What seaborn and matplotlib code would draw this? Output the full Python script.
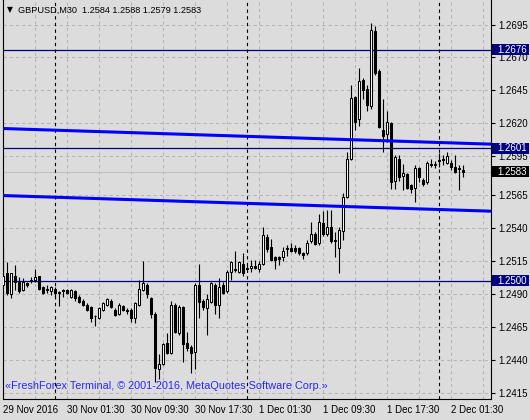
import numpy as np
import pandas as pd
import seaborn as sns
import matplotlib
matplotlib.use("Agg")
import matplotlib.pyplot as plt
from matplotlib.patches import Rectangle
import matplotlib.transforms as mtransforms

# GBPUSD M30 bars
opens = [1.2497, 1.2506, 1.2490, 1.2504, 1.2499, 1.2493, 1.2498, 1.2500, 1.2501, 1.2504,
         1.2495, 1.2493, 1.2492, 1.2494, 1.2491, 1.2493, 1.2493, 1.2488, 1.2492, 1.2488,
         1.2485, 1.2482, 1.2480, 1.2473, 1.2472, 1.2478, 1.2482, 1.2485, 1.2478, 1.2475,
         1.2481, 1.2478, 1.2478, 1.2472, 1.2482, 1.2493, 1.2497, 1.2487, 1.2475, 1.2433,
         1.2437, 1.2453, 1.2445, 1.2482, 1.2460, 1.2480, 1.2453, 1.2450, 1.2446, 1.2497,
         1.2485, 1.2479, 1.2484, 1.2497, 1.2482, 1.2497, 1.2492, 1.2507, 1.2509, 1.2507,
         1.2513, 1.2510, 1.2510, 1.2511, 1.2509, 1.2513, 1.2533, 1.2526, 1.2518, 1.2518,
         1.2518, 1.2525, 1.2525, 1.2525, 1.2525, 1.2521, 1.2521, 1.2530, 1.2536, 1.2529,
         1.2544, 1.2536, 1.2541, 1.2531, 1.2525, 1.2538, 1.2564, 1.2593, 1.2640, 1.2623,
         1.2653, 1.2646, 1.2633, 1.2690, 1.2660, 1.2615, 1.2612, 1.2620, 1.2576, 1.2593,
         1.2580, 1.2581, 1.2573, 1.2571, 1.2586, 1.2577, 1.2575, 1.2589, 1.2588, 1.2592,
         1.2593, 1.2590, 1.2590, 1.2587, 1.2586, 1.2584]
highs = [1.2526, 1.2514, 1.2506, 1.2512, 1.2503, 1.2502, 1.2499, 1.2503, 1.2509, 1.2504,
         1.2496, 1.2497, 1.2496, 1.2495, 1.2492, 1.2494, 1.2494, 1.2494, 1.2493, 1.2489,
         1.2486, 1.2483, 1.2481, 1.2474, 1.2480, 1.2484, 1.2487, 1.2486, 1.2479, 1.2483,
         1.2482, 1.2479, 1.2479, 1.2484, 1.2501, 1.2515, 1.2498, 1.2488, 1.2476, 1.2444,
         1.2453, 1.2460, 1.2485, 1.2483, 1.2482, 1.2481, 1.2461, 1.2451, 1.2498, 1.2513,
         1.2486, 1.2490, 1.2499, 1.2498, 1.2502, 1.2499, 1.2508, 1.2515, 1.2523, 1.2515,
         1.2521, 1.2512, 1.2516, 1.2516, 1.2515, 1.2541, 1.2536, 1.2532, 1.2519, 1.2519,
         1.2526, 1.2527, 1.2529, 1.2527, 1.2526, 1.2522, 1.2531, 1.2545, 1.2537, 1.2551,
         1.2553, 1.2554, 1.2554, 1.2537, 1.2541, 1.2567, 1.2598, 1.2649, 1.2641, 1.2662,
         1.2654, 1.2649, 1.2696, 1.2694, 1.2661, 1.2638, 1.2629, 1.2621, 1.2596, 1.2596,
         1.2589, 1.2582, 1.2574, 1.2588, 1.2587, 1.2578, 1.2591, 1.2593, 1.2591, 1.2597,
         1.2596, 1.2598, 1.2592, 1.2596, 1.2588, 1.2588]
lows = [1.2497, 1.2489, 1.2487, 1.2493, 1.2491, 1.2492, 1.2495, 1.2498, 1.2499, 1.2493,
        1.2490, 1.2491, 1.2489, 1.2487, 1.2481, 1.2488, 1.2490, 1.2487, 1.2485, 1.2483,
        1.2481, 1.2477, 1.2469, 1.2466, 1.2471, 1.2477, 1.2481, 1.2479, 1.2473, 1.2474,
        1.2477, 1.2475, 1.2469, 1.2468, 1.2481, 1.2492, 1.2487, 1.2472, 1.2423, 1.2425,
        1.2436, 1.2444, 1.2444, 1.2460, 1.2459, 1.2438, 1.2447, 1.2430, 1.2433, 1.2472,
        1.2478, 1.2459, 1.2483, 1.2475, 1.2472, 1.2490, 1.2491, 1.2501, 1.2507, 1.2506,
        1.2504, 1.2507, 1.2507, 1.2509, 1.2507, 1.2512, 1.2522, 1.2515, 1.2509, 1.2512,
        1.2515, 1.2519, 1.2522, 1.2521, 1.2520, 1.2517, 1.2520, 1.2529, 1.2527, 1.2527,
        1.2534, 1.2534, 1.2529, 1.2518, 1.2506, 1.2531, 1.2563, 1.2592, 1.2615, 1.2618,
        1.2638, 1.2629, 1.2631, 1.2657, 1.2616, 1.2598, 1.2606, 1.2570, 1.2570, 1.2576,
        1.2569, 1.2570, 1.2567, 1.2560, 1.2575, 1.2572, 1.2574, 1.2587, 1.2586, 1.2587,
        1.2588, 1.2589, 1.2584, 1.2582, 1.2569, 1.2579]
closes = [1.2504, 1.2491, 1.2506, 1.2499, 1.2492, 1.2499, 1.2497, 1.2501, 1.2503, 1.2494,
          1.2491, 1.2494, 1.2495, 1.2491, 1.2491, 1.2492, 1.2491, 1.2493, 1.2487, 1.2484,
          1.2482, 1.2478, 1.2472, 1.2473, 1.2479, 1.2483, 1.2486, 1.2480, 1.2474, 1.2482,
          1.2478, 1.2477, 1.2472, 1.2483, 1.2494, 1.2498, 1.2490, 1.2475, 1.2434, 1.2437,
          1.2452, 1.2445, 1.2482, 1.2461, 1.2480, 1.2452, 1.2449, 1.2445, 1.2497, 1.2484,
          1.2480, 1.2486, 1.2498, 1.2482, 1.2495, 1.2491, 1.2507, 1.2514, 1.2508, 1.2514,
          1.2506, 1.2509, 1.2511, 1.2510, 1.2513, 1.2535, 1.2524, 1.2516, 1.2516, 1.2517,
          1.2523, 1.2524, 1.2523, 1.2523, 1.2521, 1.2520, 1.2529, 1.2536, 1.2528, 1.2545,
          1.2536, 1.2541, 1.2530, 1.2530, 1.2539, 1.2564, 1.2593, 1.2639, 1.2621, 1.2652,
          1.2645, 1.2634, 1.2691, 1.2658, 1.2617, 1.2610, 1.2621, 1.2575, 1.2594, 1.2579,
          1.2582, 1.2571, 1.2570, 1.2586, 1.2579, 1.2574, 1.2590, 1.2588, 1.2589, 1.2591,
          1.2592, 1.2595, 1.2587, 1.2583, 1.2585, 1.2583]

time_labels = ['29 Nov 2016', '30 Nov 01:30', '30 Nov 09:30', '30 Nov 17:30',
               '1 Dec 01:30', '1 Dec 09:30', '1 Dec 17:30', '2 Dec 01:30']
time_label_bars = [0, 16, 32, 48, 64, 80, 96, 112]
day_breaks = [13, 61, 109]
price_ticks = [1.2415, 1.2440, 1.2465, 1.2490, 1.2515, 1.2540, 1.2565,
               1.2595, 1.2620, 1.2645, 1.2670, 1.2695]

# horizontal levels and the channel (two anchor points each)
levels = [1.2676, 1.2601, 1.2500]
bid = 1.2583
trend_x = [-1, 122]
channel_top = [1.2616, 1.2604]
channel_bottom = [1.2565, 1.2553]

bg = '#dcdcdc'
navy = '#000080'

df = pd.DataFrame({'open': opens, 'high': highs, 'low': lows, 'close': closes})
df['bar'] = np.arange(len(df))
df['up'] = df['close'] >= df['open']

sns.set_theme(style="whitegrid", rc={
    'axes.facecolor': bg, 'figure.facecolor': bg, 'axes.edgecolor': 'black',
    'grid.color': '#b4b4b4', 'grid.linestyle': (0, (3, 3)), 'grid.linewidth': 0.75,
})
plt.rcParams['font.family'] = ['Liberation Sans', 'DejaVu Sans']

fig = plt.figure(figsize=(5.3, 4.2), dpi=100)
ax = fig.add_axes([2.5 / 530, 21 / 420, 488.5 / 530, 399 / 420])

# wicks + bodies
ax.vlines(df['bar'], df['low'], df['high'], color='black', lw=0.8, zorder=3)
body_low = df[['open', 'close']].min(axis=1)
body_h = (df['close'] - df['open']).abs().clip(lower=0.00002)
ax.bar(df['bar'], body_h, bottom=body_low, width=0.5,
       color=np.where(df['up'], 'white', 'black'), edgecolor='black',
       linewidth=0.75, zorder=4)

# channel lines
sns.lineplot(x=trend_x, y=channel_top, color='#0000ff', lw=2.2, ax=ax, zorder=5)
sns.lineplot(x=trend_x, y=channel_bottom, color='#0000ff', lw=2.2, ax=ax, zorder=5)

for lv in levels:
    ax.axhline(lv, color=navy, lw=0.9, zorder=2)
ax.axhline(bid, color='#c0c0c0', lw=0.8, zorder=1.8)
for d in day_breaks:
    ax.axvline(d, color='black', lw=0.8, ls=(0, (3, 3)), zorder=2)

ax.set_xlim(-0.2, 121.9)
ax.set_ylim(1.24101, 1.27137)

ax.set_xticks(time_label_bars)
ax.set_xticklabels(time_labels)
ax.set_xticks(np.arange(8, 122, 16), minor=True)
ax.set_yticks(price_ticks)
ax.set_yticklabels([f'{p:.4f}' for p in price_ticks])
ax.grid(True, which='both', axis='x')
ax.grid(True, which='major', axis='y')
ax.yaxis.tick_right()
ax.tick_params(axis='both', which='major', direction='out', length=3, width=0.8,
               color='black', labelsize=7, labelcolor='black')
ax.tick_params(axis='y', pad=2)
ax.tick_params(axis='x', pad=1.5)
ax.tick_params(which='minor', length=0)
for lbl in ax.get_xticklabels():
    lbl.set_ha('left')

for side in ['left', 'right', 'bottom']:
    ax.spines[side].set_visible(True)
    ax.spines[side].set_color('black')
    ax.spines[side].set_linewidth(0.8)
ax.spines['top'].set_visible(False)
ax.set_xlabel('')
ax.set_ylabel('')

# price tags on the right scale
trans = mtransforms.blended_transform_factory(ax.transAxes, ax.transData)
box_h = 0.00084
for val, col in [(1.2676, navy), (1.2601, navy), (1.2500, navy), (bid, 'black')]:
    ax.add_patch(Rectangle((1.002, val - box_h / 2), 0.075, box_h, transform=trans,
                           facecolor=col, edgecolor='none', clip_on=False, zorder=6))
    ax.text(1.0123, val, f'{val:.4f}', transform=trans, color='white', fontsize=7,
            va='center', ha='left', zorder=7, clip_on=False)

ax.text(0.009, 0.975, '\u25bc', transform=ax.transAxes, fontsize=5.5, va='center',
        ha='left', color='black', family=['DejaVu Sans'])
ax.text(0.032, 0.975, 'GBPUSD,M30  1.2584 1.2588 1.2579 1.2583', transform=ax.transAxes,
        fontsize=6.6, va='center', ha='left', color='black')
ax.text(0.005, 0.033, '\u00abFreshForex Terminal, \u00a9 2001-2016, MetaQuotes Software Corp.\u00bb',
        transform=ax.transAxes, fontsize=7.8, va='center', ha='left', color='#2828ff')

fig.savefig('out.png', dpi=100, facecolor=bg)
